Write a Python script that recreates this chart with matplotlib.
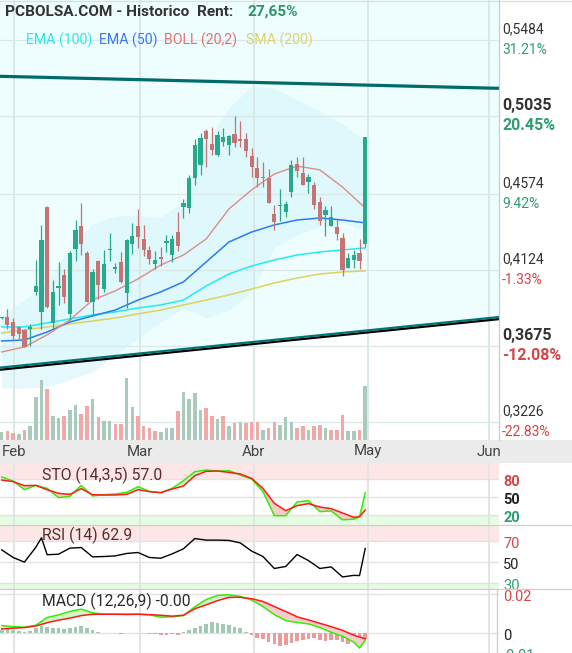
import numpy as np
import matplotlib.pyplot as plt
import matplotlib.patheffects as pe
from matplotlib.lines import Line2D
from matplotlib.patches import Rectangle

plt.rcParams['font.family'] = ['Roboto', 'DejaVu Sans']

W, H = 572, 653

# daily candles, Feb - Apr
opens = np.array([0.3838, 0.3849, 0.3819, 0.3786, 0.3770, 0.3778, 0.3993, 0.3878, 0.4499, 0.3810,
                  0.4020, 0.4095, 0.3866, 0.4249, 0.4385, 0.4223, 0.3937, 0.4178, 0.4012, 0.4240,
                  0.4132, 0.4170, 0.3991, 0.4278, 0.4385, 0.4310, 0.4243, 0.4160, 0.4203, 0.4286,
                  0.4213, 0.4349, 0.4499, 0.4493, 0.4670, 0.4747, 0.4946, 0.4869, 0.4804, 0.4881,
                  0.4862, 0.4929, 0.4899, 0.4901, 0.4798, 0.4729, 0.4676, 0.4667, 0.4456, 0.4500,
                  0.4469, 0.4588, 0.4751, 0.4700, 0.4647, 0.4627, 0.4528, 0.4450, 0.4385, 0.4377,
                  0.4312, 0.4138, 0.4184, 0.4223, 0.4278])
highs = np.array([0.3846, 0.3892, 0.3839, 0.3794, 0.3774, 0.3806, 0.4184, 0.4391, 0.4503, 0.4066,
                  0.4170, 0.4129, 0.4239, 0.4420, 0.4519, 0.4237, 0.4129, 0.4184, 0.4243, 0.4345,
                  0.4164, 0.4231, 0.4306, 0.4401, 0.4485, 0.4391, 0.4267, 0.4237, 0.4261, 0.4330,
                  0.4332, 0.4468, 0.4544, 0.4686, 0.4897, 0.4933, 0.4956, 0.4968, 0.4946, 0.4966,
                  0.4923, 0.5035, 0.5005, 0.4933, 0.4844, 0.4794, 0.4761, 0.4722, 0.4509, 0.4603,
                  0.4534, 0.4775, 0.4791, 0.4794, 0.4692, 0.4647, 0.4558, 0.4503, 0.4503, 0.4420,
                  0.4342, 0.4223, 0.4243, 0.4306, 0.4913])
lows = np.array([0.3835, 0.3774, 0.3715, 0.3711, 0.3668, 0.3677, 0.3977, 0.3774, 0.3898, 0.3774,
                 0.3920, 0.3928, 0.3829, 0.4180, 0.4213, 0.3936, 0.3853, 0.3955, 0.3997, 0.4178,
                 0.4105, 0.4050, 0.3898, 0.4219, 0.4253, 0.4207, 0.4160, 0.4129, 0.4150, 0.4231,
                 0.4174, 0.4235, 0.4434, 0.4463, 0.4627, 0.4686, 0.4735, 0.4804, 0.4798, 0.4859,
                 0.4804, 0.4850, 0.4853, 0.4794, 0.4676, 0.4617, 0.4617, 0.4522, 0.4361, 0.4416,
                 0.4436, 0.4558, 0.4676, 0.4627, 0.4582, 0.4485, 0.4391, 0.4326, 0.4385, 0.4302,
                 0.4089, 0.4138, 0.4138, 0.4129, 0.4262])
closes = np.array([0.3843, 0.3800, 0.3736, 0.3747, 0.3670, 0.3786, 0.4030, 0.4302, 0.3904, 0.3995,
                   0.4030, 0.3967, 0.4223, 0.4361, 0.4278, 0.3937, 0.4113, 0.4036, 0.4160, 0.4246,
                   0.4144, 0.4054, 0.4302, 0.4326, 0.4322, 0.4243, 0.4192, 0.4184, 0.4192, 0.4296,
                   0.4308, 0.4267, 0.4522, 0.4670, 0.4863, 0.4905, 0.4901, 0.4834, 0.4923, 0.4911,
                   0.4918, 0.4877, 0.4889, 0.4830, 0.4732, 0.4670, 0.4670, 0.4522, 0.4409, 0.4506,
                   0.4515, 0.4745, 0.4708, 0.4627, 0.4676, 0.4509, 0.4416, 0.4479, 0.4436, 0.4338,
                   0.4125, 0.4196, 0.4213, 0.4180, 0.4909])
volumes = np.array([240, 270, 220, 190, 300, 420, 1290, 1800, 1530, 720,
                    660, 720, 900, 1050, 780, 1020, 1230, 690, 570, 570,
                    480, 480, 1860, 990, 720, 420, 360, 270, 240, 360,
                    360, 870, 1440, 1230, 1410, 900, 960, 720, 630, 720,
                    420, 510, 540, 510, 540, 540, 300, 360, 540, 450,
                    690, 540, 360, 420, 300, 420, 450, 360, 300, 300,
                    750, 270, 270, 300, 1620])

# overlays read every 4th session
ma_idx = np.arange(0, 65, 4)
boll_mid = [0.3640, 0.3670, 0.3741, 0.3829, 0.3947, 0.4001, 0.4072, 0.4154, 0.4213, 0.4308,
            0.4485, 0.4598, 0.4692, 0.4739, 0.4716, 0.4615, 0.4491]
boll_up = [0.3853, 0.3947, 0.4060, 0.4249, 0.4397, 0.4444, 0.4450, 0.4432, 0.4533, 0.4881,
           0.5082, 0.5212, 0.5200, 0.5129, 0.5064, 0.4988, 0.4887]
boll_lo = [0.3427, 0.3427, 0.3433, 0.3475, 0.3522, 0.3622, 0.3723, 0.3817, 0.3900, 0.3841,
           0.3888, 0.3995, 0.4255, 0.4332, 0.4379, 0.4403, 0.4361]
ema50 = [0.3705, 0.3711, 0.3758, 0.3817, 0.3853, 0.3888, 0.3947, 0.3995, 0.4054, 0.4172,
         0.4290, 0.4349, 0.4391, 0.4420, 0.4432, 0.4420, 0.4403]
ema100 = [0.3788, 0.3788, 0.3812, 0.3835, 0.3859, 0.3877, 0.3900, 0.3918, 0.3947, 0.4030,
          0.4101, 0.4148, 0.4184, 0.4213, 0.4231, 0.4243, 0.4255]
sma200 = [0.3752, 0.3770, 0.3788, 0.3806, 0.3823, 0.3841, 0.3865, 0.3888, 0.3918, 0.3947,
          0.3977, 0.4012, 0.4048, 0.4077, 0.4101, 0.4113, 0.4119]

# trend channel
chan_idx = [-1, 88]
chan_up = [0.5270, 0.5198]
chan_low = [0.3545, 0.3848]

# price axis
price_ticks = [0.5484, 0.5035, 0.4574, 0.4124, 0.3675, 0.3226]
pct_labels = ['31.21%', '20.45%', '9.42%', '-1.33%', '-12.08%', '-22.83%']
bold_ticks = [False, True, False, False, True, False]
month_pos = [2.15, 24.3, 44.4, 64.5, 85.8]
month_lab = ['Feb', 'Mar', 'Abr', 'May', 'Jun']

# oscillators
osc_idx = list(range(0, 63, 2)) + [63, 64]
sto_k = [83.3, 76.7, 62.2, 69.4, 64.4, 48.9, 51.1, 69.4, 51.7, 53.9, 55.0, 57.8, 67.2, 59.4, 57.2, 64.4,
         77.2, 92.2, 95.0, 93.3, 93.9, 86.7, 80.0, 58.9, 18.9, 18.9, 41.7, 43.9, 25.6, 26.7, 12.0, 13.0,
         17.2, 57.0]
sto_d = [78.3, 75.6, 68.9, 69.4, 62.2, 56.1, 54.4, 63.9, 53.9, 53.3, 53.3, 54.4, 62.2, 58.9, 57.2, 63.3,
         68.3, 85.6, 92.8, 93.3, 91.1, 88.3, 81.1, 64.4, 39.4, 27.2, 35.6, 38.9, 33.3, 30.6, 23.3, 16.0,
         17.2, 28.3]
rsi_idx = [0, 2, 4, 6, 7] + list(range(8, 63, 2)) + [63, 64]
rsi = [61.6, 54.4, 50.0, 64.0, 73.0, 57.0, 57.5, 63.2, 63.8, 55.0, 55.3, 55.9, 58.2, 59.1, 54.4, 53.7,
       57.8, 62.6, 72.3, 70.8, 70.8, 70.5, 68.2, 60.4, 55.3, 44.0, 45.9, 57.2, 51.5, 44.0, 45.5, 36.0,
       37.5, 37.3, 62.9]
macd = [0.0039, 0.0034, 0.0031, 0.0041, 0.0080, 0.0094, 0.0111, 0.0123, 0.0104, 0.0097, 0.0097, 0.0095,
        0.0097, 0.0094, 0.0082, 0.0084, 0.0090, 0.0135, 0.0172, 0.0193, 0.0196, 0.0188, 0.0169, 0.0136,
        0.0095, 0.0065, 0.0055, 0.0048, 0.0030, 0.0005, -0.0015, -0.0045, -0.0075, -0.0035]
signal = [0.0022, 0.0026, 0.0029, 0.0037, 0.0054, 0.0067, 0.0077, 0.0090, 0.0097, 0.0097, 0.0097, 0.0097,
          0.0097, 0.0095, 0.0092, 0.0087, 0.0092, 0.0125, 0.0145, 0.0166, 0.0183, 0.0183, 0.0176, 0.0162,
          0.0136, 0.0111, 0.0084, 0.0068, 0.0051, 0.0034, 0.0015, -0.0010, -0.0019, -0.0028]
hist = np.array([1.7, 2.2, 1.7, 1.2, 0.9, 1.2, 2.6, 3.9, 3.4, 2.9, 2.6, 2.2, 2.6, 3.4, 3.9, 2.9,
                 1.7, 0.5, 0, 0, 0, -0.5, 0, 0.3, 0.3, 0, -0.5, -0.5, -0.85, -0.85, -0.5, -0.85,
                 0.5, 1.7, 2.6, 3.9, 4.8, 5.5, 5.1, 4.6, 4.3, 3.4, 2.9, 0.9, -0.85, -2.2, -3.1, -4.3,
                 -5.6, -6.3, -6.0, -5.1, -3.9, -3.4, -2.9, -2.2, -3.4, -3.9, -3.4, -3.4, -4.6, -5.6,
                 -4.6, -4.3, -2.9]) * 0.001

GREEN = '#27a98b'
RED = '#c47474'
GRID = '#dbe8e8'
POS = '#2e9d6f'
NEG = '#d64545'
XLIM = (-0.3, 87.55)


def box(x0, y0, x1, y1):
    return [x0 / W, 1 - y1 / H, (x1 - x0) / W, (y1 - y0) / H]


def clean(a):
    for s in a.spines.values():
        s.set_visible(False)
    a.set_xticks([])
    a.set_yticks([])


fig = plt.figure(figsize=(W / 100, H / 100), dpi=100)

# ---------------- main price panel
ax = fig.add_axes(box(0, 0, 499, 440))
clean(ax)
ax.set_xlim(*XLIM)
ax.set_ylim(0.31197, 0.57204)
ax.fill_between(chan_idx, chan_low, 1.0, color='#eefefe', lw=0, zorder=0.5)
ax.fill_between(ma_idx, boll_lo, boll_up, color='#c8f0f8', alpha=0.42, lw=0, zorder=1)
for v in price_ticks:
    ax.axhline(v, color=GRID, lw=0.9, zorder=1.5)
for m in month_pos:
    ax.axvline(m, color=GRID, lw=1.4, zorder=1.5)

ax.plot(ma_idx, sma200, color='#ddd35c', lw=1.1, zorder=3)
ax.plot(ma_idx, ema100, color='#22ecf2', lw=1.1, zorder=3)
ax.plot(ma_idx, ema50, color='#2b7bf0', lw=1.1, zorder=3)
ax.plot(ma_idx, boll_mid, color='#de8c8c', lw=1.0, zorder=3)

x = np.arange(len(closes))
ccol = np.where(closes >= opens, GREEN, RED)
ax.vlines(x, lows, highs, colors=ccol, lw=0.9, zorder=4)
body = np.maximum(np.abs(closes - opens), 0.0006)
ax.bar(x, body, bottom=np.minimum(opens, closes), width=0.74, color=ccol, zorder=5)

ax.plot(chan_idx, chan_up, color='#006b6b', lw=2.3, zorder=6)
ax.plot(chan_idx, chan_low, color='#007373', lw=1.6, zorder=6,
        path_effects=[pe.SimpleLineShadow(offset=(0, -1.5), shadow_color='black', alpha=1.0), pe.Normal()])

axv = ax.twinx()
clean(axv)
axv.set_ylim(0, 13200)
prev = np.concatenate([[closes[0]], closes[:-1]])
vcol = np.where(closes >= prev, '#a8cbbb', '#f3a8a8')
axv.bar(x, volumes, width=0.62, color=vcol)

for v, p, b in zip(price_ticks, pct_labels, bold_ticks):
    fw = 'bold' if b else 'normal'
    fs = 11.5 if b else 10
    ax.annotate(f'{v:.4f}'.replace('.', ','), xy=(1, v), xycoords=('axes fraction', 'data'),
                xytext=(2.2, 7.6), textcoords='offset points', ha='left', va='center',
                fontsize=fs, fontweight=fw, color='#333333', annotation_clip=False)
    ax.annotate(p, xy=(1, v), xycoords=('axes fraction', 'data'),
                xytext=(2.2, -7.0), textcoords='offset points', ha='left', va='center',
                fontsize=fs, fontweight=fw, color=NEG if p.startswith('-') else POS,
                annotation_clip=False)

fig.text(5 / W, 1 - 12 / H, 'PCBOLSA.COM - Historico  Rent:', fontsize=11.1, fontweight='bold',
         color='#333333', va='center')
fig.text(247 / W, 1 - 12 / H, '27,65%', fontsize=11.1, fontweight='bold', color='#2e9468', va='center')
for lx, txt, c in [(26, 'EMA (100)', '#2ee6ee'), (99, 'EMA (50)', '#3a78f0'),
                   (164, 'BOLL (20,2)', '#e27272'), (246, 'SMA (200)', '#ddd36a')]:
    fig.text(lx / W, 1 - 40 / H, txt, fontsize=10.2, color=c, va='center')

# ---------------- date strip
axd = fig.add_axes(box(0, 440, 572, 463))
clean(axd)
axd.set_facecolor('#ebebeb')
axd.set_xlim(XLIM[0], XLIM[0] + (XLIM[1] - XLIM[0]) * 572 / 499)
axd.set_ylim(0, 1)
for m, lab in zip(month_pos, month_lab):
    axd.text(m, 0.5, lab, ha='center', va='center', fontsize=10.8, color='#444444')


def panel(y0, y1, lo, hi):
    a = fig.add_axes(box(0, y0, 499, y1))
    clean(a)
    a.set_xlim(*XLIM)
    a.set_ylim(lo, hi)
    for m in month_pos:
        a.axvline(m, color='#e4e4e4', lw=1.4, zorder=0.8)
    return a


def side(a, v, txt, c, bold=False):
    a.annotate(txt, xy=(1, v), xycoords=('axes fraction', 'data'), xytext=(2.9, -2.2),
               textcoords='offset points', ha='left', va='center', fontsize=10.5,
               fontweight='bold' if bold else 'normal', color=c, annotation_clip=False)


# ---------------- stochastic
ax_s = panel(463, 525, 3.3, 106.7)
ax_s.axhspan(80, 106.7, color='#fde6e6', lw=0, zorder=0.5)
ax_s.axhspan(3.3, 20, color='#e6fce3', lw=0, zorder=0.5)
for v in (80, 50, 20):
    ax_s.axhline(v, color='#e2e2e2', lw=1, zorder=0.9)
k = np.array(sto_k)
d = np.array(sto_d)
ax_s.fill_between(osc_idx, k, d, where=k >= d, interpolate=True, color='#d3f6c9', lw=0, zorder=1)
ax_s.fill_between(osc_idx, k, d, where=k < d, interpolate=True, color='#f8cccc', lw=0, zorder=1)
ax_s.plot(osc_idx, k, color='#33ee00', lw=1.1, zorder=2)
ax_s.plot(osc_idx, d, color='#ff1a1a', lw=1.1, zorder=2)
ax_s.text(42 / 499, 0.80, 'STO (14,3,5) 57.0', transform=ax_s.transAxes, fontsize=11.3,
          color='#5b2b2b', va='center', zorder=3)
side(ax_s, 80, '80', '#d64545', True)
side(ax_s, 50, '50', '#222222', True)
side(ax_s, 20, '20', POS, True)

# ---------------- RSI
ax_r = panel(525, 589, 24.6, 85.1)
ax_r.axhspan(70, 85.1, color='#fde6e6', lw=0, zorder=0.5)
ax_r.axhspan(24.6, 30, color='#e6fce3', lw=0, zorder=0.5)
for v in (70, 50, 30):
    ax_r.axhline(v, color='#e2e2e2', lw=1, zorder=0.9)
ax_r.plot(rsi_idx, rsi, color='black', lw=1.0, zorder=2)
ax_r.text(42 / 499, 0.84, 'RSI (14) 62.9', transform=ax_r.transAxes, fontsize=11.3,
          color='#5b2b2b', va='center', zorder=3)
side(ax_r, 70, '70', '#d64545')
side(ax_r, 50, '50', '#222222')
side(ax_r, 30, '30', POS)

# ---------------- MACD
ax_m = panel(589, 653, -0.01003, 0.02254)
ax_m.add_patch(Rectangle((499 / W, 0), (W - 499) / W, 64 / H, transform=fig.transFigure,
                         color='white', clip_on=False, zorder=-1))
for v in (0.02, 0, -0.01):
    ax_m.axhline(v, color='#e2e2e2', lw=1, zorder=0.9)
ax_m.bar(x, hist, width=0.64, color=np.where(hist >= 0, '#a3c9b5', '#e89c9c'), zorder=1)
mc = np.array(macd)
sg = np.array(signal)
ax_m.fill_between(osc_idx, mc, sg, where=mc >= sg, interpolate=True, color='#d3f6c9', lw=0, zorder=1.5)
ax_m.fill_between(osc_idx, mc, sg, where=mc < sg, interpolate=True, color='#f8cccc', lw=0, zorder=1.5)
ax_m.plot(osc_idx, mc, color='#33ee00', lw=1.1, zorder=2)
ax_m.plot(osc_idx, sg, color='#ff1a1a', lw=1.1, zorder=2)
ax_m.text(42 / 499, 0.81, 'MACD (12,26,9) -0.00', transform=ax_m.transAxes, fontsize=11.3,
          color='#2b2b2b', va='center', zorder=3)
side(ax_m, 0.02, '0.02', '#d64545')
side(ax_m, 0, '0', '#222222')
side(ax_m, -0.01, '-0.01', POS)

# frame lines
for yy in (525, 589):
    fig.add_artist(Line2D([0, 1], [1 - yy / H] * 2, color='#cfcfcf', lw=0.9))
fig.add_artist(Line2D([0, 1], [1 - 0.5 / H] * 2, color='#dddddd', lw=0.9))
fig.add_artist(Line2D([499 / W] * 2, [1, 1 - 440 / H], color='#cccccc', lw=0.9))
fig.add_artist(Line2D([497 / W] * 2, [1 - 589 / H, 0], color='#cccccc', lw=0.9))

fig.savefig('out.png', dpi=100)
